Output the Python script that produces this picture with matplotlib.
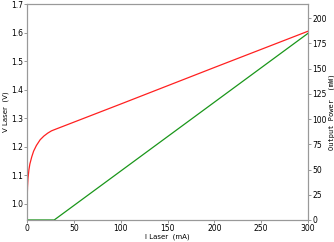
import matplotlib.pyplot as plt
import numpy as np

# V-I curve (left axis)
i_v = [0, 0.5, 1, 2, 3, 5, 7, 10, 14, 18, 22, 26, 29, 100, 200, 300]
v_laser = [1.0, 1.06, 1.09, 1.12, 1.14, 1.165, 1.185, 1.205, 1.225, 1.238, 1.248, 1.256, 1.26, 1.35, 1.478, 1.605]

# L-I curve (right axis)
i_p = [0, 29, 300]
p_out = [0, 0, 185]

fig = plt.figure(figsize=(3.34, 2.42), dpi=100)
ax = fig.add_axes([0.081, 0.091, 0.841, 0.892])
ax2 = ax.twinx()

ax.plot(i_v, v_laser, color='#ff2020', lw=0.9)
ax2.plot(i_p, p_out, color='#1a961a', lw=0.9)

ax.set_xlim(0, 300)
ax.set_ylim(0.944, 1.7)
ax2.set_ylim(0, 214)
ax.set_xticks([0, 50, 100, 150, 200, 250, 300])
ax.set_yticks([1.0, 1.1, 1.2, 1.3, 1.4, 1.5, 1.6, 1.7])
ax2.set_yticks(np.arange(0, 201, 25))

ax.set_xlabel('I Laser  (mA)', fontsize=5, labelpad=0.5)
ax.set_ylabel('V Laser  (V)', fontsize=5, labelpad=1)
ax2.set_ylabel('Output Power  (mW)', fontsize=5, labelpad=1, family='DejaVu Sans Mono')

for a in (ax, ax2):
    a.tick_params(labelsize=5.5, length=2, width=0.6, color='#888888', pad=1)
    for s in a.spines.values():
        s.set_color('#999999')
        s.set_linewidth(0.8)

fig.savefig('out.png', dpi=100)
